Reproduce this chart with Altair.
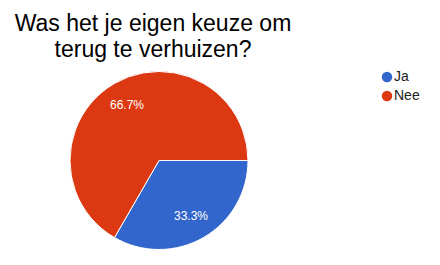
import math
import altair as alt
import pandas as pd

answers = ["Ja", "Nee"]
counts = [1, 2]
pct_labels = ["33.3%", "66.7%"]
colors = ["#3366cc", "#dc3912"]

df = pd.DataFrame({"answer": answers, "count": counts, "pct": pct_labels, "idx": [0, 1]})

theta = alt.Theta("count:Q", stack=True,
                  scale=alt.Scale(range=[math.pi / 2, math.pi / 2 + 2 * math.pi]))
order = alt.Order("idx:Q")

cx, cy = 159, 95.5

arc = alt.Chart(df).mark_arc(outerRadius=89, stroke="white", strokeWidth=1).encode(
    theta=theta,
    order=order,
    x=alt.value(cx),
    y=alt.value(cy),
    color=alt.Color(
        "answer:N",
        scale=alt.Scale(domain=answers, range=colors),
        legend=alt.Legend(
            title=None,
            orient="none",
            legendX=380,
            legendY=5,
            symbolType="circle",
            symbolSize=110,
            symbolStrokeWidth=0,
            labelFont="Liberation Sans",
            labelFontSize=14,
            labelColor="#222222",
            labelOffset=0,
            rowPadding=5,
            padding=0,
        ),
    ),
)

text = alt.Chart(df).mark_text(
    radius=64, color="white", fontSize=12, font="Liberation Sans"
).encode(
    theta=theta,
    order=order,
    x=alt.value(cx),
    y=alt.value(cy),
    text="pct:N",
)

chart = (
    alt.layer(arc, text)
    .properties(
        width=306,
        height=200,
        padding={"top": 65, "left": 0, "right": 134, "bottom": 0},
        autosize=alt.AutoSizeParams(type="none"),
        background="white",
        title=alt.TitleParams(
            text=["Was het je eigen keuze om", "terug te verhuizen?"],
            font="Liberation Sans",
            fontSize=23,
            fontWeight="normal",
            color="#000000",
            anchor="middle",
            lineHeight=26.5,
            offset=3,
        ),
    )
    .configure_view(strokeWidth=0, stroke="transparent")
)

chart.save("out.html", embed_options={"renderer": "svg", "actions": False})
